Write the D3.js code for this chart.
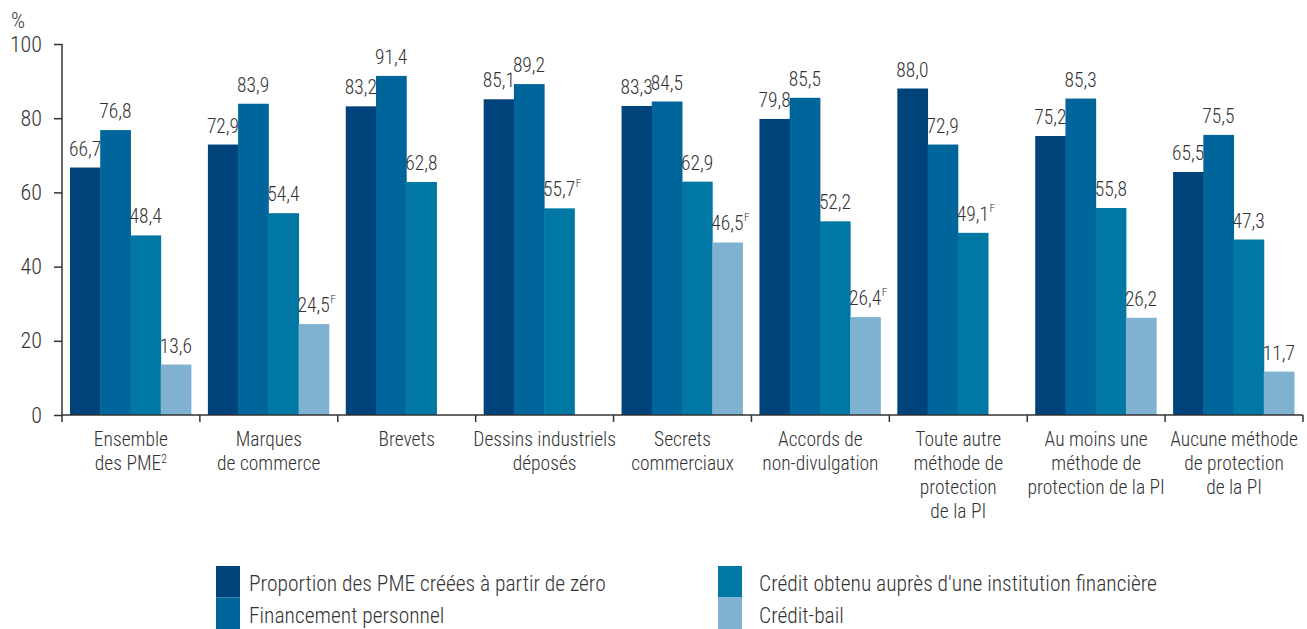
<!DOCTYPE html>
<html><head><meta charset="utf-8">
<script src="https://cdn.jsdelivr.net/npm/d3@7"></script>
<style>
body{margin:0;background:#fff;}
text{font-family:"Roboto",sans-serif;font-stretch:condensed;font-weight:300;fill:#333;}
</style></head>
<body><svg id="c" width="1307" height="629"></svg>
<script>
const categories = [
  ["Ensemble","des PME|2"],
  ["Marques","de commerce"],
  ["Brevets"],
  ["Dessins industriels","déposés"],
  ["Secrets","commerciaux"],
  ["Accords de","non-divulgation"],
  ["Toute autre","méthode de","protection","de la PI"],
  ["Au moins une","méthode de","protection de la PI"],
  ["Aucune méthode","de protection","de la PI"]
];
const seriesNames = ["Proportion des PME créées à partir de zéro","Financement personnel","Crédit obtenu auprès d'une institution financière","Crédit-bail"];
const seriesColors = ["#00427a","#00659a","#0078a3","#7fb1d1"];
const proportion = [66.7,72.9,83.2,85.1,83.3,79.8,88.0,75.2,65.5];
const financementPersonnel = [76.8,83.9,91.4,89.2,84.5,85.5,72.9,85.3,75.5];
const creditInstitution = [48.4,54.4,62.8,55.7,62.9,52.2,49.1,55.8,47.3];
const creditBail = [13.6,24.5,null,null,46.5,26.4,null,26.2,11.7];
const flagsInstitution = ["","","","F","","","F","",""];
const flagsBail = ["","F","","","F","F","","",""];
const yTicks = [0,20,40,60,80,100];

const series = [proportion, financementPersonnel, creditInstitution, creditBail];
const flags = [null, null, flagsInstitution, flagsBail];

const svg = d3.select("#c");
const x0 = d3.scaleBand().domain(d3.range(categories.length)).range([62,1303]).padding(0);
const x1 = d3.scaleBand().domain(d3.range(4)).range([8, x0.bandwidth()-9]).padding(0);
const y = d3.scaleLinear().domain([0,100]).range([415,44]);
const fmt = v => d3.format(".1f")(v).replace(".", ",");

// bars
series.forEach((vals, s) => {
  vals.forEach((v, i) => {
    if (v == null) return;
    svg.append("rect")
      .attr("x", x0(i) + x1(s)).attr("width", x1.bandwidth()+0.5)
      .attr("y", y(v)).attr("height", y(0)-y(v))
      .attr("fill", seriesColors[s]);
  });
});
// labels
series.forEach((vals, s) => {
  vals.forEach((v, i) => {
    if (v == null) return;
    const cx = x0(i) + x1(s) + x1.bandwidth()/2;
    const t = svg.append("text").attr("x", cx).attr("y", y(v)-12)
      .attr("text-anchor","middle").style("font-size","19.5px").text(fmt(v));
    const f = flags[s] && flags[s][i];
    if (f) {
      const w = t.node().getComputedTextLength();
      svg.append("text").attr("x", cx + w/2 + 0.5).attr("y", y(v)-21)
        .style("font-size","11.5px").text(f);
    }
  });
});

// y axis
const ya = svg.append("g").attr("transform","translate(62,0)")
  .call(d3.axisLeft(y).tickValues(yTicks).tickSize(8).tickPadding(12).tickFormat(d3.format("d")));
ya.select(".domain").attr("stroke","#333").attr("stroke-width",1.5).attr("d","M0,44V415");
ya.selectAll(".tick line").attr("stroke","#333").attr("stroke-width",1.5);
ya.selectAll(".tick text").style("font-size","22px").attr("fill","#333").attr("font-family",null);
svg.append("text").attr("x",11).attr("y",28).style("font-size","22px").text("%");

// x axis
svg.append("line").attr("x1",62).attr("x2",1303).attr("y1",415).attr("y2",415).attr("stroke","#333").attr("stroke-width",1.5);
d3.range(categories.length+1).forEach(i => {
  const xx = i < categories.length ? x0(i) : x0.range()[1];
  svg.append("line").attr("x1",xx).attr("x2",xx).attr("y1",415).attr("y2",422).attr("stroke","#333").attr("stroke-width",1.5);
});
categories.forEach((lines, i) => {
  const cx = x0(i) + x0.bandwidth()/2;
  const t = svg.append("text").attr("text-anchor","middle").style("font-size","19.5px");
  lines.forEach((ln, j) => {
    const parts = ln.split("|");
    t.append("tspan").attr("x", cx).attr("y", 446 + j*24).text(parts[0]);
    if (parts[1]) t.append("tspan").attr("dy",-7).style("font-size","12px").text(parts[1]);
  });
});

// legend
const legendPos = [[216,566,249],[216,597.5,249],[718,566,759],[718,597.5,759]];
seriesNames.forEach((n, s) => {
  const [lx, ly, tx] = legendPos[s];
  svg.append("rect").attr("x",lx).attr("y",ly).attr("width",24).attr("height",31.5).attr("fill",seriesColors[s]);
  svg.append("text").attr("x",tx).attr("y",ly+25).style("font-size","21.5px").text(n);
});
</script></body></html>
